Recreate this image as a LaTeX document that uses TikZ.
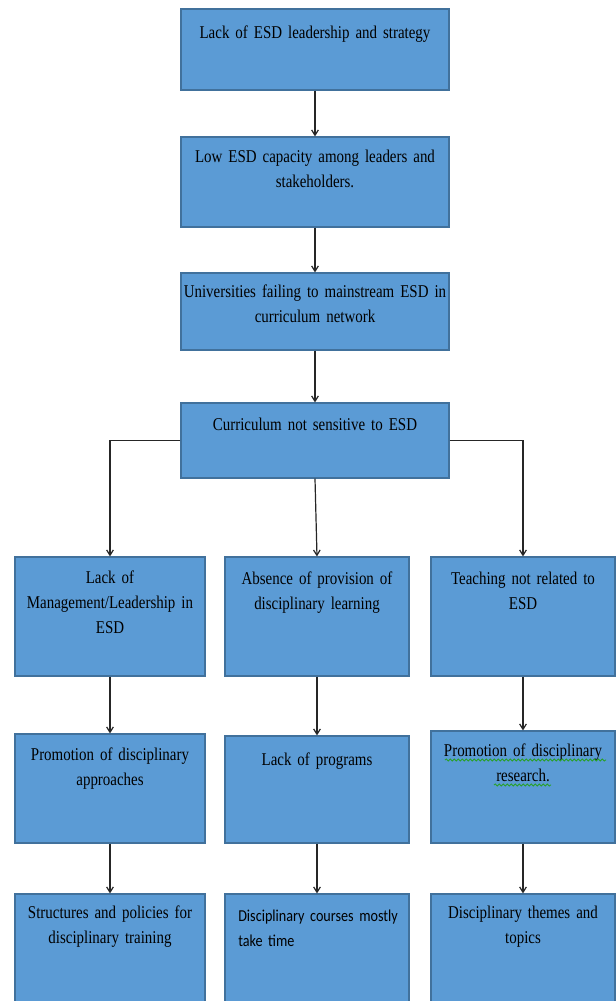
\documentclass[tikz,border=0pt]{standalone}
\usepackage{fontspec}
\setmainfont[FakeStretch=0.83]{Liberation Serif}
\newfontfamily\calfont[FakeStretch=0.85]{Carlito}
\usetikzlibrary{arrows.meta,decorations.pathmorphing}
\definecolor{boxfill}{RGB}{91,155,213}
\definecolor{boxline}{RGB}{65,113,156}
\definecolor{squiggle}{RGB}{40,160,40}
% narrower word gaps
\newcommand\tightspace{\spaceskip=2.3pt plus 0.5pt minus 0.3pt\relax}
% box with corners (x1,y1) and (x2,y2), in pixel units
\newcommand\pbox[5]{%
  \node[box, minimum width={(#4-#2)*0.75pt}, minimum height={(#5-#3)*0.75pt}]
    (#1) at ({(#2+#4)/2},{(#3+#5)/2}) {};}
\begin{document}
\begin{tikzpicture}[x=0.75pt,y=-0.75pt,
  box/.style={rectangle, draw=boxline, fill=boxfill, line width=0.9pt, inner sep=0pt},
  txt/.style={inner sep=0pt, align=center, text width=250pt, anchor=base,
    font=\fontsize{13.5pt}{18.75pt}\selectfont\tightspace, text=black},
  link/.style={draw=black!85, line width=0.9pt, -{Straight Barb[length=4pt,width=5pt]}},
  wavy/.style={draw=squiggle, line width=0.6pt, decorate,
    decoration={snake, amplitude=0.8pt, segment length=3pt}},
]
\clip (0,0) rectangle (616,1001);

% boxes
\pbox{b1}{181}{9}{449}{90}
\pbox{b2}{181}{137}{449}{227}
\pbox{b3}{181}{273}{449}{350}
\pbox{b4}{181}{403}{449}{478}
\pbox{l1}{15}{557}{205}{676}
\pbox{m1}{225}{557}{409}{676}
\pbox{r1}{431}{557}{615}{676}
\pbox{l2}{15}{734}{205}{843}
\pbox{m2}{225}{736}{409}{843}
\pbox{r2}{431}{731}{615}{843}
\pbox{l3}{15}{894}{205}{1010}
\pbox{m3}{225}{894}{409}{1010}
\pbox{r3}{431}{894}{615}{1010}

% texts
\node[txt] (t1) at (315,38) {Lack of ESD leadership and strategy};
\node[txt] (t2) at (315,162) {Low ESD capacity among leaders and\\stakeholders.};
\node[txt] (t3) at (315,297) {Universities failing to mainstream ESD in\\curriculum network};
\node[txt] (t4) at (315,430) {Curriculum not sensitive to ESD};
\node[txt] (tl1) at (110,583) {Lack of\\Management/Leadership in\\ESD};
\node[txt] (tm1) at (317,584) {Absence of provision of\\disciplinary learning};
\node[txt] (tr1) at (523,584) {Teaching not related to\\ESD};
\node[txt] (tl2) at (110,760) {Promotion of disciplinary\\approaches};
\node[txt] (tm2) at (317,765) {Lack of programs};
\node[txt] (tr2) at (523,756) {Promotion of disciplinary\\research.};
\node[txt] (tl3) at (110,918) {Structures and policies for\\disciplinary training};
\node[txt, align=left, text width=160pt, anchor=base west,
  font=\calfont\fontsize{12.5pt}{18.75pt}\selectfont\tightspace]
  (tm3) at (238,921) {Disciplinary courses mostly\\take time};
\node[txt] (tr3) at (523,918) {Disciplinary themes and\\topics};

% spell-check underlines
\draw[wavy] (445,760) -- (606,760);
\draw[wavy] (494,785) -- (551,785);

% connectors
\draw[link] (b1.south) -- (b2.north);
\draw[link] (b2.south) -- (b3.north);
\draw[link] (b3.south) -- (b4.north);
\draw[link] (b4.west) -| (l1.north);
\draw[link] (b4.south) -- (m1.north);
\draw[link] (b4.east) -| (r1.north);
\draw[link] (l1.south) -- (l2.north);
\draw[link] (m1.south) -- (m2.north);
\draw[link] (r1.south) -- (r2.north);
\draw[link] (l2.south) -- (l3.north);
\draw[link] (m2.south) -- (m3.north);
\draw[link] (r2.south) -- (r3.north);
\end{tikzpicture}
\end{document}
